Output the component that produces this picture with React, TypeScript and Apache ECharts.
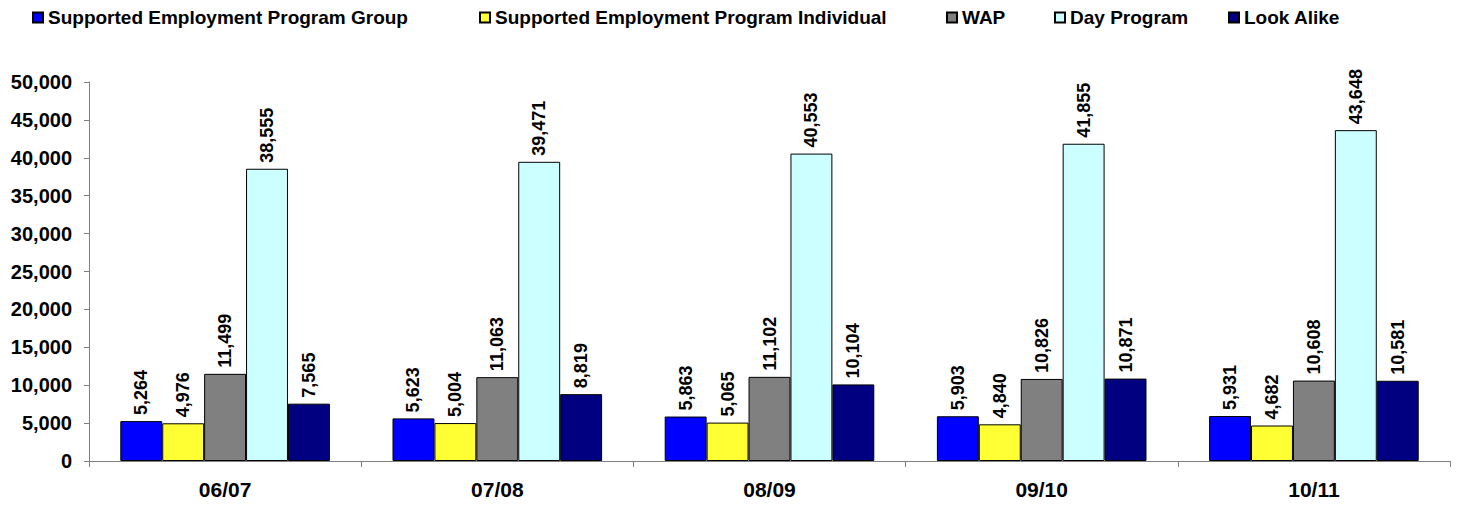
import React, { useEffect, useRef } from "react";
import * as echarts from "echarts";

const categories = ["06/07", "07/08", "08/09", "09/10", "10/11"];
const seriesNames = [
  "Supported Employment Program Group",
  "Supported Employment Program Individual",
  "WAP",
  "Day Program",
  "Look Alike",
];
const sepGroup = [5264, 5623, 5863, 5903, 5931];
const sepIndividual = [4976, 5004, 5065, 4840, 4682];
const wap = [11499, 11063, 11102, 10826, 10608];
const dayProgram = [38555, 39471, 40553, 41855, 43648];
const lookAlike = [7565, 8819, 10104, 10871, 10581];
const seriesValues = [sepGroup, sepIndividual, wap, dayProgram, lookAlike];
const colors = ["#0000FF", "#FFFF33", "#808080", "#CCFFFF", "#000080"];
const legendLefts = [32, 479, 946, 1054, 1228];

const FONT = "'Liberation Sans', Arial, sans-serif";
const fmt = (v: number) => v.toLocaleString("en-US");

export default function App() {
  const ref = useRef<HTMLDivElement>(null);
  useEffect(() => {
    if (!ref.current) return;
    const chart = echarts.init(ref.current, null, { renderer: "svg" });
    chart.setOption({
      animation: false,
      backgroundColor: "#ffffff",
      textStyle: { fontFamily: FONT },
      legend: seriesNames.map((n, i) => ({
        data: [{ name: n, icon: "rect" }],
        left: legendLefts[i],
        top: 8,
        padding: 0,
        itemWidth: 10,
        itemHeight: 10,
        itemGap: 5,
        selectedMode: false,
        textStyle: { fontFamily: FONT, fontWeight: "bold", fontSize: 19, color: "#000" },
      })),
      grid: { left: 89, right: 13, top: 82, bottom: 45, containLabel: false },
      xAxis: {
        type: "category",
        data: categories,
        axisLine: { lineStyle: { color: "#808080", width: 1 } },
        axisTick: { show: true, length: 6, lineStyle: { color: "#808080" } },
        axisLabel: { fontFamily: FONT, fontWeight: "bold", fontSize: 21, color: "#000", margin: 18 },
      },
      yAxis: {
        type: "value",
        min: 0,
        max: 50000,
        interval: 5000,
        axisLine: { show: true, lineStyle: { color: "#808080", width: 1 } },
        axisTick: { show: true, length: 5, lineStyle: { color: "#808080" } },
        splitLine: { show: false },
        axisLabel: {
          fontFamily: FONT,
          fontWeight: "bold",
          fontSize: 20,
          color: "#000",
          margin: 17,
          formatter: (v: number) => fmt(v),
        },
      },
      series: seriesNames.map((n, i) => ({
        name: n,
        type: "bar",
        data: seriesValues[i],
        barGap: "0%",
        barCategoryGap: "23%",
        itemStyle: { color: colors[i], borderColor: "#000", borderWidth: 1 },
        label: {
          show: true,
          position: "top",
          rotate: 90,
          align: "left",
          verticalAlign: "middle",
          distance: 6,
          fontFamily: FONT,
          fontWeight: "bold",
          fontSize: 18,
          color: "#000",
          formatter: (p: any) => fmt(p.value),
        },
      })),
    });
    return () => chart.dispose();
  }, []);
  return (
    <div
      ref={ref}
      style={{ position: "fixed", left: 0, top: 0, width: 1463, height: 506 }}
    />
  );
}
